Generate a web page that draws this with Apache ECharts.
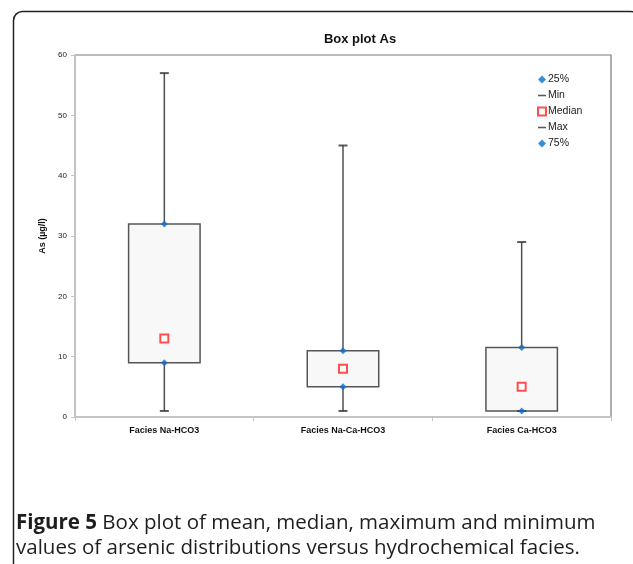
<!DOCTYPE html>
<html>
<head>
<meta charset="utf-8">
<script src="https://cdn.jsdelivr.net/npm/echarts@6/dist/echarts.min.js"></script>
<style>
  html, body { margin: 0; padding: 0; background: #fff; }
  #chart { width: 633px; height: 564px; }
</style>
</head>
<body>
<div id="chart"></div>
<script>
// values (As, µg/l)
var categories = ['Facies Na-HCO3', 'Facies Na-Ca-HCO3', 'Facies Ca-HCO3'];
var minVals = [1, 1, 1];
var q1Vals = [9, 5, 1];
var medianVals = [13, 8, 5];
var q3Vals = [32, 11, 11.5];
var maxVals = [57, 45, 29];
var yTicks = [0, 10, 20, 30, 40, 50, 60];

var dash = 'path://M0,0H10V2H0Z';
var font = '"Liberation Sans", Arial, sans-serif';

var boxData = categories.map(function (c, i) {
    return [i, minVals[i], q1Vals[i], q3Vals[i], maxVals[i]];
});

function renderBox(params, api) {
    var i = api.value(0);
    var lo = api.coord([i, api.value(1)]);
    var q1 = api.coord([i, api.value(2)]);
    var q3 = api.coord([i, api.value(3)]);
    var hi = api.coord([i, api.value(4)]);
    var half = api.size([1, 0])[0] * 0.2;
    return {
        type: 'group',
        children: [
            {
                type: 'line',
                shape: { x1: lo[0], y1: lo[1], x2: hi[0], y2: hi[1] },
                style: { stroke: '#505050', lineWidth: 1.5 }
            },
            {
                type: 'rect',
                shape: { x: q3[0] - half, y: q3[1], width: half * 2, height: q1[1] - q3[1] },
                style: { fill: '#f8f8f8', stroke: '#555', lineWidth: 1.5 }
            }
        ]
    };
}

var chart = echarts.init(document.getElementById('chart'));

chart.setOption({
    animation: false,
    backgroundColor: '#fff',
    title: {
        text: 'Box plot As',
        left: 355,
        top: 28,
        textAlign: 'center',
        textStyle: { fontFamily: font, fontSize: 13, fontWeight: 'bold', color: '#111' }
    },
    legend: {
        orient: 'vertical',
        left: 537,
        top: 74,
        padding: 0,
        itemWidth: 8,
        itemHeight: 8,
        itemGap: 5,
        symbolKeepAspect: true,
        textStyle: { fontFamily: font, fontSize: 10.5, lineHeight: 10, color: '#222', padding: [0, 0, 0, -3] },
        data: [
            { name: '25%', icon: 'diamond' },
            { name: 'Min', icon: dash },
            { name: 'Median', icon: 'rect' },
            { name: 'Max', icon: dash },
            { name: '75%', icon: 'diamond' }
        ]
    },
    grid: {
        left: 75,
        right: 22,
        top: 55,
        bottom: 147,
        show: true,
        borderColor: '#7a7a7a',
        borderWidth: 1.2
    },
    xAxis: {
        type: 'category',
        data: categories,
        boundaryGap: true,
        axisLine: { lineStyle: { color: '#c4c4c4', width: 2 } },
        axisTick: { show: true, length: 4, lineStyle: { color: '#c4c4c4' } },
        axisLabel: { fontFamily: font, fontSize: 9, fontWeight: 'bold', color: '#111', margin: 9 }
    },
    yAxis: {
        type: 'value',
        min: yTicks[0],
        max: yTicks[yTicks.length - 1],
        interval: 10,
        name: 'As (µg/l)',
        nameLocation: 'middle',
        nameRotate: 90,
        nameGap: 25,
        nameTextStyle: { fontFamily: font, fontSize: 9, fontWeight: 'bold', color: '#111' },
        axisLine: { show: true, lineStyle: { color: '#c4c4c4', width: 2 } },
        axisTick: { show: true, length: 4, lineStyle: { color: '#c4c4c4' } },
        axisLabel: { fontFamily: font, fontSize: 8, color: '#222', margin: 8 },
        splitLine: { show: false }
    },
    series: [
        {
            type: 'custom',
            name: 'box',
            renderItem: renderBox,
            encode: { x: 0, y: [1, 2, 3, 4] },
            data: boxData,
            z: 1
        },
        {
            type: 'scatter', name: '25%', data: q1Vals,
            symbol: 'diamond', symbolSize: 7,
            itemStyle: { color: '#0b6fce' }, z: 3
        },
        {
            type: 'scatter', name: 'Min', data: minVals,
            symbol: dash, symbolSize: [9, 2],
            itemStyle: { color: '#333' }, z: 2
        },
        {
            type: 'scatter', name: 'Median', data: medianVals,
            symbol: 'rect', symbolSize: 8,
            itemStyle: { color: '#fff', borderColor: '#ff2222', borderWidth: 2 }, z: 3
        },
        {
            type: 'scatter', name: 'Max', data: maxVals,
            symbol: dash, symbolSize: [9, 2],
            itemStyle: { color: '#333' }, z: 2
        },
        {
            type: 'scatter', name: '75%', data: q3Vals,
            symbol: 'diamond', symbolSize: 7,
            itemStyle: { color: '#0b6fce' }, z: 3
        }
    ],
    graphic: [
        {
            type: 'rect',
            shape: { x: 13.5, y: 11.5, width: 626, height: 600, r: 9 },
            style: { fill: 'none', stroke: '#222', lineWidth: 1.5 },
            silent: true
        },
        {
            type: 'text',
            left: 16,
            top: 511,
            style: {
                text: '{b|Figure 5} Box plot of mean, median, maximum and minimum\nvalues of arsenic distributions versus hydrochemical facies.',
                font: '20.5px "Open Sans", sans-serif',
                fill: '#1e1e1e',
                lineHeight: 25,
                rich: {
                    b: { font: 'bold 20.5px "Open Sans", sans-serif', fill: '#1e1e1e' }
                }
            }
        }
    ]
});
</script>
</body>
</html>
